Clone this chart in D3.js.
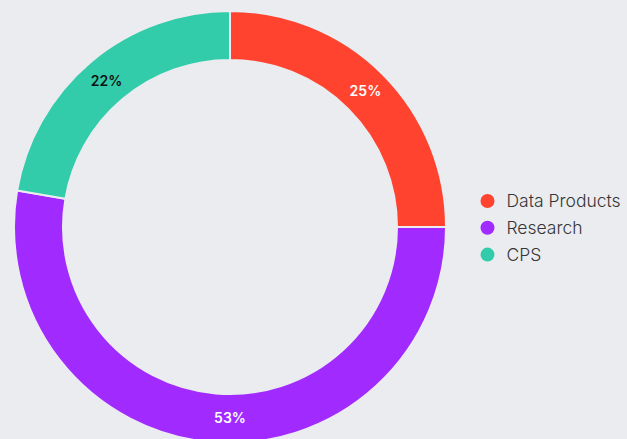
<!DOCTYPE html>
<html><head><meta charset="utf-8">
<script src="https://cdn.jsdelivr.net/npm/d3@7"></script>
<style>
html,body{margin:0;padding:0;background:#EBECF0;}
svg{display:block;}
</style></head>
<body>
<div id="chart"></div>
<script>
const categories = ["Data Products", "Research", "CPS"];
const values = [25, 52.7, 22.3];
const labels = ["25%", "53%", "22%"];
const colors = ["#FF432E", "#A12AFF", "#33CCAA"];
const labelColors = ["#ffffff", "#ffffff", "#111111"];

const W = 627, H = 439;
const cx = 230, cy = 227, rOuter = 216, rInner = 167;

const svg = d3.select("#chart").append("svg").attr("width", W).attr("height", H);
svg.append("rect").attr("width", W).attr("height", H).attr("fill", "#EBECF0");

const data = categories.map((c, i) => ({cat: c, value: values[i], label: labels[i], color: colors[i], lc: labelColors[i]}));
const pie = d3.pie().value(d => d.value).sort(null);
const arc = d3.arc().innerRadius(rInner).outerRadius(rOuter);
const arcs = pie(data);

const g = svg.append("g").attr("transform", `translate(${cx},${cy})`);
g.selectAll("path").data(arcs).join("path")
  .attr("d", arc).attr("fill", d => d.data.color)
  .attr("stroke", "#EBECF0").attr("stroke-width", 2);

// label at mid-radius; if a large slice covers the bottom point, snap the label there
const rMid = (rInner + rOuter) / 2;
g.selectAll("text").data(arcs).join("text")
  .attr("transform", d => {
    let a = (d.startAngle + d.endAngle) / 2;
    if (d.startAngle < Math.PI && d.endAngle > Math.PI && (d.endAngle - d.startAngle) > Math.PI * 0.9) a = Math.PI;
    const x = rMid * Math.sin(a), y = -rMid * Math.cos(a);
    return `translate(${x},${y})`;
  })
  .attr("text-anchor", "middle").attr("dy", "0.35em")
  .attr("font-family", "Inter, Roboto, sans-serif")
  .attr("font-size", 14).attr("font-weight", 600)
  .attr("fill", d => d.data.lc)
  .text(d => d.data.label);

const legend = svg.append("g").attr("transform", "translate(487.5,201)");
const li = legend.selectAll("g").data(data).join("g")
  .attr("transform", (d, i) => `translate(0,${i * 26.8})`);
li.append("circle").attr("r", 7).attr("fill", d => d.color);
li.append("text").attr("x", 19).attr("dy", "0.35em")
  .attr("font-family", "Inter, Roboto, sans-serif").attr("font-size", 17.5)
  .attr("font-weight", 300)
  .attr("fill", "#363636").text(d => d.cat);
</script>
</body></html>
